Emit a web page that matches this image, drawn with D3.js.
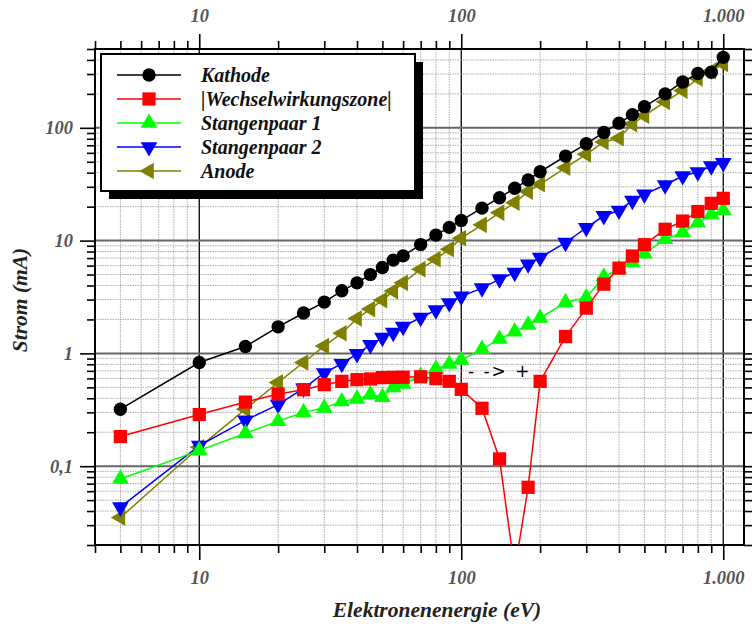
<!DOCTYPE html>
<html>
<head>
<meta charset="utf-8">
<script src="https://cdn.jsdelivr.net/npm/d3@7"></script>
<style>
body { margin: 0; background: #fff; }
text { font-family: "Liberation Serif", serif; font-weight: bold; font-style: italic; }
</style>
</head>
<body>
<div id="wrapper"></div>
<script>
// Data
const energy = [5, 10, 15, 20, 25, 30, 35, 40, 45, 50, 55, 60, 70, 80, 90, 100, 120, 140, 160, 180, 200, 250, 300, 350, 400, 450, 500, 600, 700, 800, 900, 1000]
const kathode = [0.32, 0.83, 1.15, 1.72, 2.28, 2.85, 3.59, 4.22, 5.0, 5.77, 6.71, 7.32, 9.22, 11.2, 13.1, 15.1, 19.4, 24.0, 29.1, 34.5, 40.8, 56.2, 72.2, 91, 110, 131, 154, 200, 255, 303, 311, 422]
const wechsel = [0.183, 0.287, 0.37, 0.437, 0.477, 0.528, 0.565, 0.585, 0.593, 0.61, 0.613, 0.615, 0.62, 0.597, 0.565, 0.48, 0.326, 0.116, 0.012, 0.065, 0.565, 1.41, 2.52, 4.11, 5.7, 7.3, 9.2, 12.6, 14.9, 18.1, 21.4, 23.7]
const stange1 = [0.077, 0.138, 0.195, 0.25, 0.30, 0.329, 0.374, 0.395, 0.431, 0.408, 0.50, 0.536, 0.63, 0.728, 0.805, 0.874, 1.09, 1.34, 1.56, 1.79, 2.06, 2.83, 3.13, 4.78, 5.6, 6.39, 7.67, 10.3, 11.8, 14.4, 17.1, 18.6]
const stange2 = [0.0434, 0.152, 0.255, 0.351, 0.49, 0.67, 0.81, 0.99, 1.19, 1.38, 1.53, 1.73, 2.08, 2.42, 2.8, 3.2, 3.79, 4.55, 5.21, 6.18, 7.07, 9.6, 13.0, 16.6, 18.5, 22.6, 25.7, 31.1, 37.4, 40.5, 45.8, 49]
const anode = [0.035, 0.147, 0.32, 0.553, 0.83, 1.16, 1.51, 2.04, 2.47, 2.97, 3.57, 4.22, 5.58, 6.85, 8.39, 10.5, 13.8, 17.7, 21.7, 27.2, 31.6, 44.3, 58.2, 75, 81, 108, 128, 170, 214, 274, 318, 368]

const seriesNames = ["Kathode", "|Wechselwirkungszone|", "Stangenpaar 1", "Stangenpaar 2", "Anode"]
const seriesValues = [kathode, wechsel, stange1, stange2, anode]
const seriesColors = ["#000000", "#ff0000", "#00ff00", "#0000ff", "#808000"]
const seriesSymbols = ["circle", "square", "up", "down", "left"]

const xMajor = [10, 100, 1000]
const xMajorLabels = ["10", "100", "1.000"]
const yMajor = [0.1, 1, 10, 100]
const yMajorLabels = ["0,1", "1", "10", "100"]

const dimensions = {
    width: 752, height: 627,
    margins: {top: 49, bottom: 82, left: 95, right: 8}
}
dimensions.boundsWidth = dimensions.width - dimensions.margins.left - dimensions.margins.right
dimensions.boundsHeight = dimensions.height - dimensions.margins.top - dimensions.margins.bottom

const svg = d3.select("#wrapper").append("svg")
    .attr("width", dimensions.width)
    .attr("height", dimensions.height)

const bounds = svg.append("g")
    .attr("transform", `translate(${dimensions.margins.left},${dimensions.margins.top})`)

// Scales
const xScale = d3.scaleLog().domain([4, 1200]).range([0, dimensions.boundsWidth])
const yScale = d3.scaleLog().domain([0.02, 500]).range([dimensions.boundsHeight, 0])

const xTicks = xScale.ticks()
const yTicks = yScale.ticks()
const isMajor = (list, v) => list.some(m => Math.abs(m - v) / m < 1e-6)

// Grid
const grid = bounds.append("g")
grid.selectAll(".vx").data(xTicks).join("line")
    .attr("x1", d => xScale(d)).attr("x2", d => xScale(d))
    .attr("y1", 0).attr("y2", dimensions.boundsHeight)
    .attr("stroke", d => isMajor(xMajor, d) ? "#000" : "#aaa")
    .attr("stroke-width", d => isMajor(xMajor, d) ? 1.3 : 1)
    .attr("stroke-dasharray", d => isMajor(xMajor, d) ? null : "1.5,1")
grid.selectAll(".hy").data(yTicks).join("line")
    .attr("y1", d => yScale(d)).attr("y2", d => yScale(d))
    .attr("x1", 0).attr("x2", dimensions.boundsWidth)
    .attr("stroke", d => isMajor(yMajor, d) ? "#666" : "#aaa")
    .attr("stroke-width", d => isMajor(yMajor, d) ? 2 : 1)
    .attr("stroke-dasharray", d => isMajor(yMajor, d) ? null : "1.5,1")

// Axes
function styleAxis(g, major, labels, showLabels) {
    g.select(".domain").remove()
    g.selectAll(".tick line").attr("stroke", "#000").attr("stroke-width", 1.6)
    g.selectAll(".tick text")
        .attr("fill", "#555")
        .style("font-size", "18.5px")
        .text(d => {
            const i = major.findIndex(m => Math.abs(m - d) / m < 1e-6)
            return showLabels && i >= 0 ? labels[i] : ""
        })
}
function makeAxis(axisFn, scale, ticks) {
    return axisFn(scale).tickValues(ticks).tickSizeOuter(0)
        .tickSize(8).tickPadding(12)
}

const xBottom = bounds.append("g").attr("transform", `translate(0,${dimensions.boundsHeight})`)
    .call(makeAxis(d3.axisBottom, xScale, xTicks))
xBottom.call(g => styleAxis(g, xMajor, xMajorLabels, true))
xBottom.selectAll(".tick line").attr("y2", d => isMajor(xMajor, d) ? 15 : 8)
xBottom.selectAll(".tick text").attr("y", 26)

const xTop = bounds.append("g").call(makeAxis(d3.axisTop, xScale, xTicks))
xTop.call(g => styleAxis(g, xMajor, xMajorLabels, true))
xTop.selectAll(".tick line").attr("y2", d => isMajor(xMajor, d) ? -15 : -8)
xTop.selectAll(".tick text").attr("y", -27)

const yLeft = bounds.append("g").call(makeAxis(d3.axisLeft, yScale, yTicks))
yLeft.call(g => styleAxis(g, yMajor, yMajorLabels, true))
yLeft.selectAll(".tick line").attr("x2", d => isMajor(yMajor, d) ? -15 : -8)
yLeft.selectAll(".tick text").attr("x", -22)

const yRight = bounds.append("g").attr("transform", `translate(${dimensions.boundsWidth},0)`)
    .call(makeAxis(d3.axisRight, yScale, yTicks))
yRight.call(g => styleAxis(g, yMajor, yMajorLabels, false))
yRight.selectAll(".tick line").attr("x2", d => isMajor(yMajor, d) ? 15 : 8)

// Frame
bounds.append("rect")
    .attr("width", dimensions.boundsWidth).attr("height", dimensions.boundsHeight)
    .attr("fill", "none").attr("stroke", "#000").attr("stroke-width", 2)

// Series
bounds.append("clipPath").attr("id", "clip").append("rect")
    .attr("width", dimensions.boundsWidth).attr("height", dimensions.boundsHeight)
const plot = bounds.append("g").attr("clip-path", "url(#clip)")

const line = d3.line().x(d => xScale(d[0])).y(d => yScale(d[1]))

function symbolPath(kind) {
    if (kind === "circle") return d3.symbol(d3.symbolCircle, 140)()
    if (kind === "square") return d3.symbol(d3.symbolSquare, 175)()
    return d3.symbol(d3.symbolTriangle, 120)()
}
function symbolRotate(kind) {
    return kind === "down" ? 180 : kind === "left" ? -90 : 0
}

// drawn back to front: anode first, kathode last
d3.range(seriesNames.length).reverse().forEach(i => {
    const pts = energy.map((e, j) => [e, seriesValues[i][j]])
    plot.append("path").datum(pts)
        .attr("d", line).attr("fill", "none")
        .attr("stroke", seriesColors[i]).attr("stroke-width", 1.5)
    plot.selectAll(null).data(pts).join("path")
        .attr("d", symbolPath(seriesSymbols[i]))
        .attr("transform", d => `translate(${xScale(d[0])},${yScale(d[1])}) rotate(${symbolRotate(seriesSymbols[i])})`)
        .attr("fill", seriesColors[i])
})

// annotation
bounds.append("text")
    .attr("x", xScale(106)).attr("y", yScale(0.62))
    .style("font-family", "'DejaVu Sans', sans-serif").style("font-style", "normal").style("font-weight", "normal")
    .style("font-size", "17px").style("letter-spacing", "2px").attr("fill", "#000")
    .attr("xml:space", "preserve")
    .text("- -> +")

// Legend
const legend = svg.append("g").attr("transform", "translate(101,54)")
legend.append("rect").attr("x", 8).attr("y", 8).attr("width", 314).attr("height", 137).attr("fill", "#000")
legend.append("rect").attr("width", 314).attr("height", 137)
    .attr("fill", "#fff").attr("stroke", "#000").attr("stroke-width", 2)
seriesNames.forEach((name, i) => {
    const row = legend.append("g").attr("transform", `translate(0,${21 + i * 24})`)
    row.append("line").attr("x1", 16).attr("x2", 80).attr("stroke", seriesColors[i]).attr("stroke-width", 1.5)
    row.append("path").attr("d", symbolPath(seriesSymbols[i]))
        .attr("transform", `translate(48,0) rotate(${symbolRotate(seriesSymbols[i])})`)
        .attr("fill", seriesColors[i])
    row.append("text").attr("x", 100).attr("dy", "0.35em")
        .style("font-size", "20px").attr("fill", "#111").text(name)
})

// Axis titles
svg.append("text")
    .attr("x", 437).attr("y", 617).attr("text-anchor", "middle")
    .style("font-size", "21.5px").attr("fill", "#222").text("Elektronenenergie (eV)")
svg.append("text")
    .attr("transform", "translate(27,300) rotate(-90)").attr("text-anchor", "middle")
    .style("font-size", "21.5px").attr("fill", "#222").text("Strom (mA)")
</script>
</body>
</html>
